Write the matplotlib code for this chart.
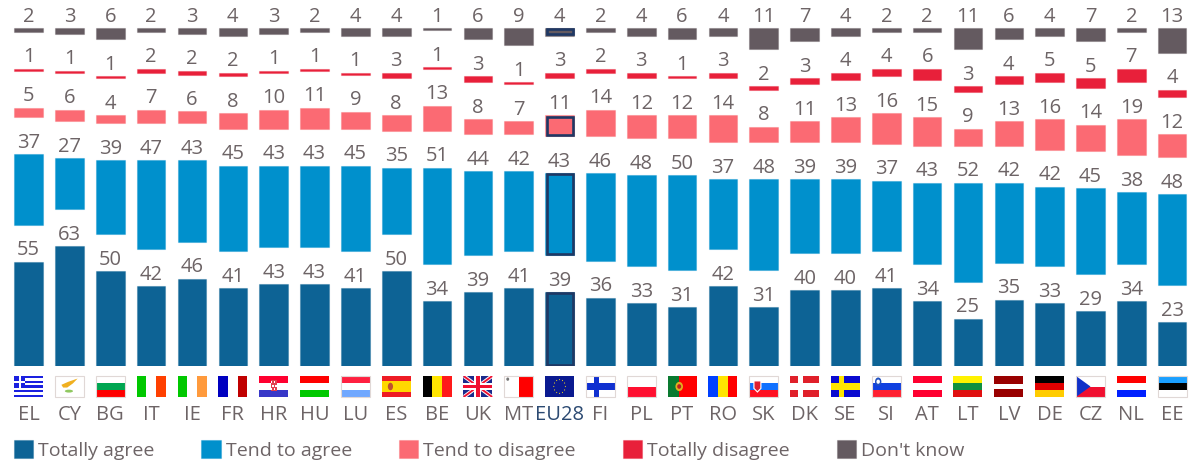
import numpy as np
import matplotlib
matplotlib.use("Agg")
import matplotlib.pyplot as plt
from matplotlib.patches import Rectangle, Polygon, Ellipse

countries = ["EL","CY","BG","IT","IE","FR","HR","HU","LU","ES","BE","UK","MT","EU28","FI",
             "PL","PT","RO","SK","DK","SE","SI","AT","LT","LV","DE","CZ","NL","EE"]
totally_agree = [55,63,50,42,46,41,43,43,41,50,34,39,41,39,36,33,31,42,31,40,40,41,34,25,35,33,29,34,23]
tend_agree    = [37,27,39,47,43,45,43,43,45,35,51,44,42,43,46,48,50,37,48,39,39,37,43,52,42,42,45,38,48]
tend_disagree = [5,6,4,7,6,8,10,11,9,8,13,8,7,11,14,12,12,14,8,11,13,16,15,9,13,16,14,19,12]
totally_disagree = [1,1,1,2,2,2,1,1,1,3,1,3,1,3,2,3,1,3,2,3,4,4,6,3,4,5,5,7,4]
dont_know     = [2,3,6,2,3,4,3,2,4,4,1,6,9,4,2,4,6,4,11,7,4,2,2,11,6,4,7,2,13]

series = [("Totally agree", totally_agree, "#0d6395"),
          ("Tend to agree", tend_agree, "#0090cc"),
          ("Tend to disagree", tend_disagree, "#fb6a73"),
          ("Totally disagree", totally_disagree, "#e8203a"),
          ("Don't know", dont_know, "#645a60")]

TXT = "#6d6466"
NAVY = "#1f3864"
FONT = "Open Sans"
FS = 14.5
plt.rcParams["font.family"] = [FONT, "DejaVu Sans"]

W, H = 1194, 468
fig = plt.figure(figsize=(W/100, H/100), dpi=100)
base_px, top_px = 366, 20
ax = fig.add_axes([0, 1-base_px/H, 1, (base_px-top_px)/H])
PXU = 1.9
PXX = 40.84
ax.set_xlim(-28.67/PXX, (W-28.67)/PXX)
ax.set_ylim(0, (base_px-top_px)/PXU)
for s in ax.spines.values():
    s.set_visible(False)
ax.tick_params(axis="x", length=0, pad=28, labelsize=FS, labelcolor=TXT)
ax.set_yticks([])
x = np.arange(len(countries))
ax.set_xticks(x, countries)
eu = countries.index("EU28")
ax.get_xticklabels()[eu].set_color("#2c4a72")

GAP = 37/PXU
BW = 28.6/PXX
bottom = np.zeros(len(countries))
handles = []
for k, (name, vals, col) in enumerate(series):
    vals = np.array(vals, float)
    c = ax.bar(x, vals, BW, bottom=bottom, color=col, edgecolor=(*matplotlib.colors.to_rgb(col), 0.35),
               linewidth=0.8, label=name)
    handles.append(c)
    for xi, v, b in zip(x, vals, bottom):
        ax.annotate(f"{int(v)}", (xi, b+v), xytext=(0, 4.6), textcoords="offset points",
                    ha="center", va="baseline", fontsize=FS, color=TXT)
    if name != "Totally disagree":
        # EU28 highlight frame, inset so it stays within the bar
        ix, iy = 1.25/PXX, 1.25/PXU
        ax.bar(x[eu], vals[eu]-2*iy, BW-2*ix, bottom=bottom[eu]+iy, facecolor="none",
               edgecolor=NAVY, linewidth=1.9)
    bottom = bottom + vals + GAP

# ---- flags (decoration under the axis) ----
FW, FT, FB = 29/PXX, (366-376)/PXU, (366-397)/PXU
def R(i, u0, v0, u1, v1, col, z=3):
    X0 = i-FW/2+FW*u0; X1 = i-FW/2+FW*u1
    Y0 = FT+(FB-FT)*v0; Y1 = FT+(FB-FT)*v1
    ax.add_patch(Rectangle((X0, min(Y0, Y1)), X1-X0, abs(Y1-Y0), fc=col, ec="none", clip_on=False, zorder=z))
def P(i, pts, col, z=4):
    ax.add_patch(Polygon([(i-FW/2+FW*u, FT+(FB-FT)*v) for u, v in pts], fc=col, ec="none", clip_on=False, zorder=z))
def E(i, u, v, ru, rv, col, z=4):
    ax.add_patch(Ellipse((i-FW/2+FW*u, FT+(FB-FT)*v), 2*ru*FW, 2*rv*abs(FB-FT), fc=col, ec="none", clip_on=False, zorder=z))
def H_(i, cols, w=None):
    w = w or [1]*len(cols); t = 0; s = sum(w)
    for c, a in zip(cols, w):
        R(i, 0, t/s, 1, (t+a)/s, c); t += a
def V(i, cols, w=None):
    w = w or [1]*len(cols); t = 0; s = sum(w)
    for c, a in zip(cols, w):
        R(i, t/s, 0, (t+a)/s, 1, c); t += a
def frame(i):
    X0 = i-FW/2
    ax.add_patch(Rectangle((X0, FB), FW, FT-FB, fc="none", ec="#e0d8d6", lw=0.8, clip_on=False, zorder=5))
def cross(i, bg, outer, inner=None, cu=0.37):
    R(i, 0, 0, 1, 1, bg)
    R(i, cu-0.09, 0, cu+0.09, 1, outer); R(i, 0, 0.35, 1, 0.65, outer)
    if inner:
        R(i, cu-0.04, 0, cu+0.04, 1, inner); R(i, 0, 0.43, 1, 0.57, inner)

flags = {
 "BG": ("h", ["#ffffff", "#00a651", "#ff0000"]), "IT": ("v", ["#00c800", "#ffffff", "#ff4000"]),
 "IE": ("v", ["#00c800", "#ffffff", "#ff9a3c"]), "FR": ("v", ["#0000c0", "#ffffff", "#c00000"]),
 "HU": ("h", ["#ff0000", "#ffffff", "#00c800"]), "LU": ("h", ["#ff2040", "#ffffff", "#70a8ff"]),
 "BE": ("v", ["#000000", "#ffe500", "#ff1a1a"]), "PL": ("h", ["#ffffff", "#ff1030"], ),
 "RO": ("v", ["#0040ff", "#ffe500", "#ff0000"]), "AT": ("h", ["#ff0030", "#ffffff", "#ff0030"]),
 "LT": ("h", ["#fff200", "#109040", "#e01010"]), "DE": ("h", ["#000000", "#e00000", "#ffcc00"]),
 "NL": ("h", ["#ff0000", "#ffffff", "#0020ff"]), "EE": ("h", ["#1a9fff", "#000000", "#ffffff"]),
}
white_frame = {"CY", "BG", "PL", "MT", "EE", "CZ", "FI", "SK", "SI", "LU"}
for i, cc in enumerate(countries):
    if cc in flags:
        kind, cols = flags[cc]
        (H_ if kind == "h" else V)(i, cols)
    elif cc == "EL":
        H_(i, ["#1a20e0" if j % 2 == 0 else "#ffffff" for j in range(9)])
        R(i, 0, 0, 0.38, 5/9, "#1a20e0")
        R(i, 0.15, 0, 0.23, 5/9, "#ffffff"); R(i, 0, 2/9, 0.38, 3/9, "#ffffff")
    elif cc == "CY":
        R(i, 0, 0, 1, 1, "#ffffff")
        P(i, [(.22,.42),(.45,.28),(.78,.12),(.62,.35),(.42,.55),(.28,.55)], "#f0b020")
        E(i, .48, .72, .14, .07, "#90c860")
    elif cc == "HR":
        H_(i, ["#ff0030", "#ffffff", "#3838c8"])
        R(i, .4, .18, .6, .72, "#e04050", z=4)
        for a in (.4, .5):
            for b in (.25, .42, .58):
                R(i, a+.05*((b > .4) and (b < .5)), b, a+.05+.05*((b > .4) and (b < .5)), b+.08, "#ffffff", z=5)
    elif cc == "ES":
        H_(i, ["#ee1c25", "#ffd800", "#ee1c25"], [1, 2, 1])
        E(i, .3, .5, .09, .18, "#c05030")
    elif cc == "UK":
        R(i, 0, 0, 1, 1, "#1a2a8c")
        for pts in ([(0,0),(.12,0),(1,.9),(1,1),(.88,1),(0,.1)], [(1,0),(.88,0),(0,.9),(0,1),(.12,1),(1,.1)]):
            P(i, pts, "#ffffff", 4)
        for pts in ([(0,0),(.06,0),(1,.95),(1,1),(.94,1),(0,.05)], [(1,0),(.94,0),(0,.95),(0,1),(.06,1),(1,.05)]):
            P(i, pts, "#f01030", 4)
        R(i, .38, 0, .62, 1, "#ffffff", 5); R(i, 0, .33, 1, .67, "#ffffff", 5)
        R(i, .44, 0, .56, 1, "#f01030", 6); R(i, 0, .41, 1, .59, "#f01030", 6)
    elif cc == "MT":
        V(i, ["#ffffff", "#ff0000"]); E(i, .12, .15, .05, .08, "#777777")
    elif cc == "EU28":
        R(i, 0, 0, 1, 1, "#0a1a90")
        for a in np.deg2rad(np.arange(0, 360, 30)):
            E(i, .5+.2*np.cos(a), .5+.33*np.sin(a), .018, .03, "#e8d020")
    elif cc == "FI":
        cross(i, "#ffffff", "#1030d0")
    elif cc == "PT":
        V(i, ["#0a7a30", "#ff0000"], [2, 3]); E(i, .4, .5, .13, .22, "#e0b020"); E(i, .4, .5, .07, .11, "#c02020", 5)
    elif cc == "SK":
        H_(i, ["#ffffff", "#1070ff", "#ff1020"])
        P(i, [(.14,.2),(.42,.2),(.42,.6),(.28,.8),(.14,.6)], "#ffffff"); P(i, [(.18,.26),(.38,.26),(.38,.58),(.28,.72),(.18,.58)], "#e02030", 5)
    elif cc == "DK":
        cross(i, "#e0202a", "#ffffff")
    elif cc == "SE":
        cross(i, "#0a0ad0", "#ffe500")
    elif cc == "SI":
        H_(i, ["#ffffff", "#1040e0", "#ff2030"])
        E(i, .22, .27, .11, .2, "#2050c0"); E(i, .22, .27, .06, .1, "#ffffff", 5)
    elif cc == "LV":
        H_(i, ["#990000", "#ffffff", "#990000"], [2, 1, 2])
    elif cc == "CZ":
        H_(i, ["#ffffff", "#f01030"])
        P(i, [(0,0),(.5,.5),(0,1)], "#1030c8")
    if cc in white_frame:
        frame(i)

# ---- legend ----
fig.legend(handles=handles, labels=[s[0] for s in series], ncol=5, frameon=False,
           loc="lower left", bbox_to_anchor=(13.5/W, 1-459.5/H), bbox_transform=fig.transFigure,
           borderpad=0, borderaxespad=0, handlelength=1.0, handleheight=1.0, handletextpad=0.25,
           columnspacing=2.42, labelcolor=TXT, fontsize=14)

fig.savefig("out.png", dpi=100)
